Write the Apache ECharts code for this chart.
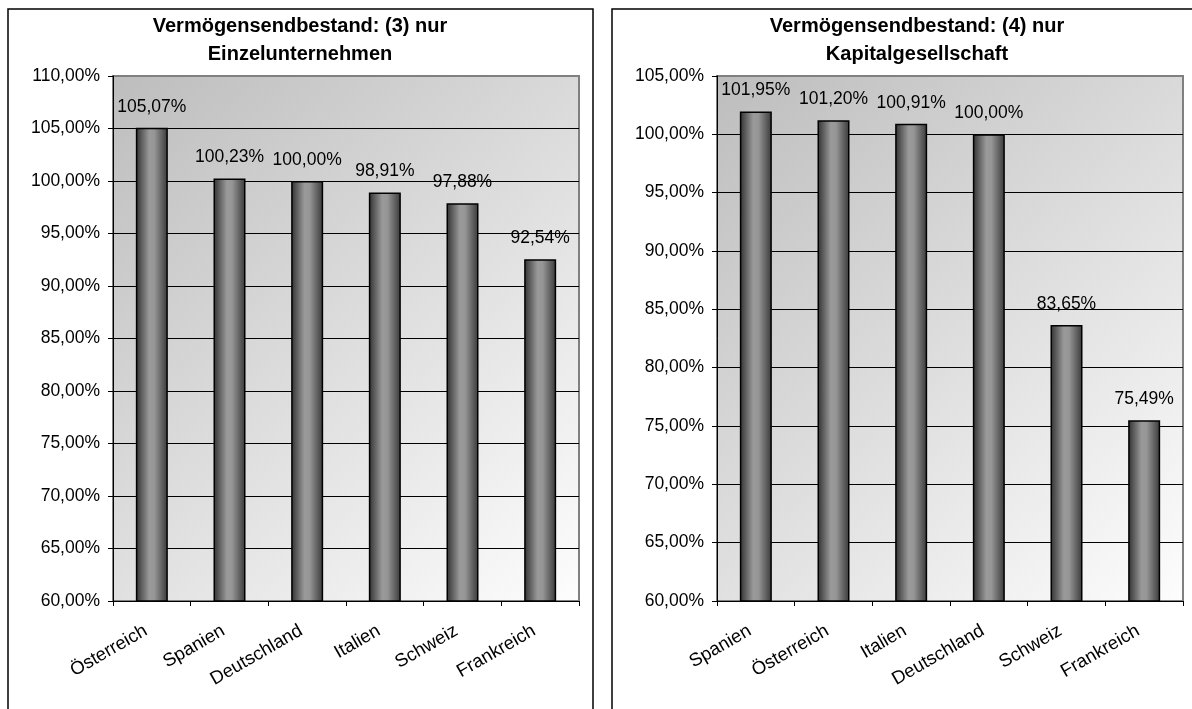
<!DOCTYPE html>
<html>
<head>
<meta charset="utf-8">
<style>
  html, body { margin: 0; padding: 0; background: #fff; }
  #chart { width: 1192px; height: 709px; }
</style>
<script src="https://cdn.jsdelivr.net/npm/echarts@6/dist/echarts.min.js"></script>
</head>
<body>
<div id="chart"></div>
<script>
// Left chart: only sole proprietorships
const titleLeft = 'Vermögensendbestand: (3) nur\nEinzelunternehmen';
const categoriesLeft = ['Österreich', 'Spanien', 'Deutschland', 'Italien', 'Schweiz', 'Frankreich'];
const valuesLeft = [105.07, 100.23, 100.00, 98.91, 97.88, 92.54];

// Right chart: only corporations
const titleRight = 'Vermögensendbestand: (4) nur\nKapitalgesellschaft';
const categoriesRight = ['Spanien', 'Österreich', 'Italien', 'Deutschland', 'Schweiz', 'Frankreich'];
const valuesRight = [101.95, 101.20, 100.91, 100.00, 83.65, 75.49];

// Value axis ranges
const yRangeLeft = { min: 60, max: 110, interval: 5 };
const yRangeRight = { min: 60, max: 105, interval: 5 };

const FONT = '"Liberation Sans", Arial, Helvetica, sans-serif';
const pct = v => v.toFixed(2).replace('.', ',') + '%';

const plotBg = new echarts.graphic.LinearGradient(0, 0, 1, 1, [
  { offset: 0, color: '#bdbdbd' },
  { offset: 1, color: '#fdfdfd' }
]);
const barFill = new echarts.graphic.LinearGradient(0, 0, 1, 0, [
  { offset: 0, color: '#303030' },
  { offset: 0.42, color: '#9a9a9a' },
  { offset: 0.58, color: '#969696' },
  { offset: 1, color: '#383838' }
]);

function gridCfg(left) {
  return {
    left: left, top: 76, width: 466, height: 525,
    show: true, backgroundColor: plotBg,
    borderColor: '#808080', borderWidth: 2
  };
}
function xAxisCfg(idx, cats) {
  return {
    type: 'category', gridIndex: idx, data: cats,
    axisLine: { lineStyle: { color: '#000', width: 1 } },
    axisTick: { show: true, length: 5, lineStyle: { color: '#000' } },
    axisLabel: {
      rotate: 30, interval: 0, margin: 25, padding: [0, 7, 0, 0],
      color: '#000', fontSize: 18.5, fontFamily: FONT
    }
  };
}
function yAxisCfg(idx, r) {
  return {
    type: 'value', gridIndex: idx, min: r.min, max: r.max, interval: r.interval,
    axisLine: { show: true, lineStyle: { color: '#000', width: 1 } },
    axisTick: { show: true, length: 5, lineStyle: { color: '#000' } },
    axisLabel: { margin: 13, color: '#000', fontSize: 17.5, fontFamily: FONT, formatter: pct },
    splitLine: { show: true, showMaxLine: false, lineStyle: { color: '#000', width: 1 } }
  };
}
function barSeries(idx, vals) {
  return {
    type: 'bar', xAxisIndex: idx, yAxisIndex: idx, data: vals,
    barWidth: 32,
    itemStyle: { color: barFill, borderColor: '#000', borderWidth: 1.5 },
    label: {
      show: true, position: 'top', distance: 12,
      color: '#000', fontSize: 17.5, fontFamily: FONT,
      formatter: p => pct(p.value)
    },
    silent: true
  };
}

const titleStyle = { fontSize: 20, fontWeight: 'bold', color: '#000', fontFamily: FONT, lineHeight: 28 };

const chart = echarts.init(document.getElementById('chart'), null, { renderer: 'canvas' });
chart.setOption({
  animation: false,
  backgroundColor: '#fff',
  title: [
    { text: titleLeft, left: 300, top: 12, padding: 0, textAlign: 'center', textStyle: titleStyle },
    { text: titleRight, left: 917, top: 12, padding: 0, textAlign: 'center', textStyle: titleStyle }
  ],
  graphic: [
    { type: 'rect', shape: { x: 8, y: 9, width: 585, height: 720 },
      style: { fill: 'none', stroke: '#000', lineWidth: 1.5 }, z: 100 },
    { type: 'rect', shape: { x: 612, y: 9, width: 620, height: 720 },
      style: { fill: 'none', stroke: '#000', lineWidth: 1.5 }, z: 100 }
  ],
  grid: [gridCfg(113), gridCfg(717)],
  xAxis: [xAxisCfg(0, categoriesLeft), xAxisCfg(1, categoriesRight)],
  yAxis: [yAxisCfg(0, yRangeLeft), yAxisCfg(1, yRangeRight)],
  series: [barSeries(0, valuesLeft), barSeries(1, valuesRight)]
});
</script>
</body>
</html>
